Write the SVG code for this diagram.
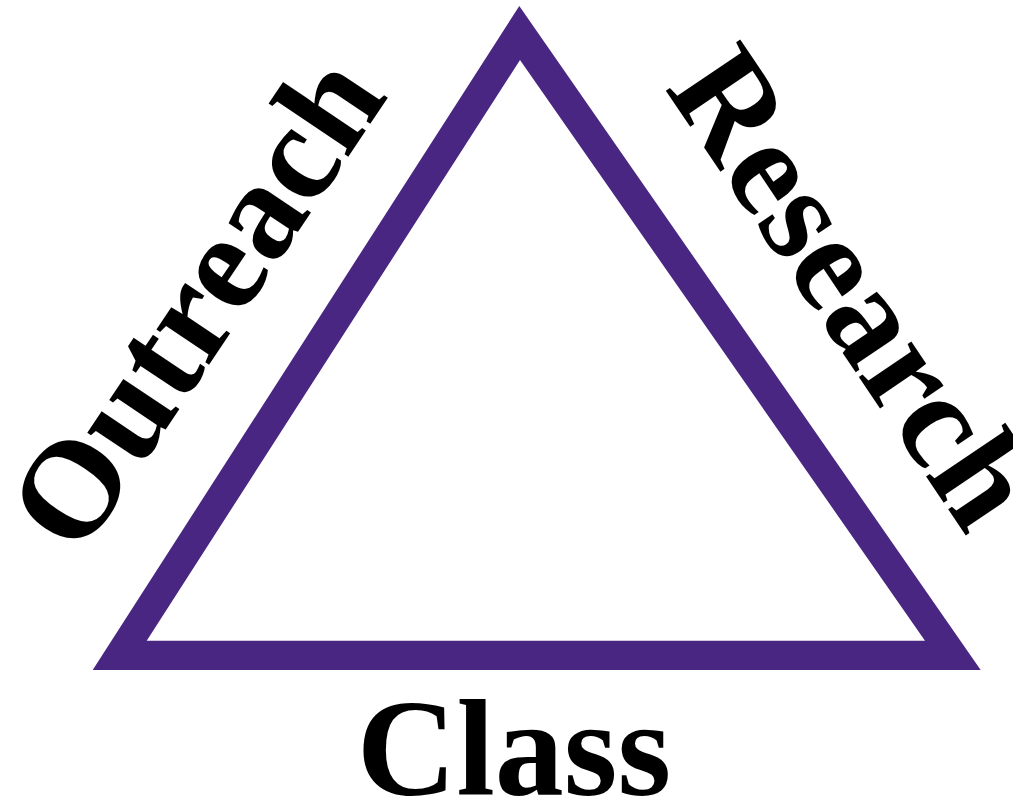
<svg xmlns="http://www.w3.org/2000/svg" width="1013" height="803" viewBox="0 0 1013 803">
<style>
.lbl{font-family:"Liberation Serif","Times New Roman",serif;font-weight:bold;font-size:138px;fill:#000}
.tri{fill:#482682;fill-rule:evenodd}
</style>
<rect width="1013" height="803" fill="#fff"/>
<g id="connectors">
<path class="tri" d="M519.3,6 L92.7,670 L980.7,670 Z M520,60 L925,640.7 L146.7,640.7 Z"/>
</g>
<g id="outreach"><text class="lbl" transform="translate(79,559) rotate(-56.2)">Outreach</text></g>
<g id="research"><text class="lbl" transform="translate(664,88) rotate(56)">Research</text></g>
<g id="class"><text class="lbl" x="514" y="795" text-anchor="middle">Class</text></g>
</svg>
